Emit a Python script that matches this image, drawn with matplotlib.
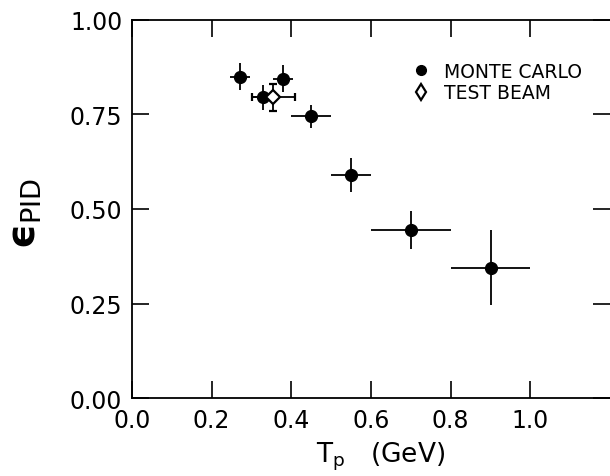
import matplotlib
matplotlib.use("Agg")
import matplotlib.pyplot as plt
from matplotlib.lines import Line2D

plt.rcParams['font.family'] = ['DejaVu Sans']
plt.rcParams['mathtext.fontset'] = 'dejavusans'

# Monte Carlo points
mc_x = [0.27, 0.33, 0.38, 0.45, 0.55, 0.70, 0.90]
mc_y = [0.85, 0.795, 0.845, 0.745, 0.59, 0.445, 0.345]
mc_xerr = [0.025, 0.025, 0.025, 0.05, 0.05, 0.10, 0.10]
mc_yerr = [0.035, 0.032, 0.035, 0.03, 0.045, 0.05, 0.10]

# Test beam point
tb_x = [0.355]
tb_y = [0.795]
tb_xerr = [0.055]
tb_yerr = [0.035]

xticks = [0.0, 0.2, 0.4, 0.6, 0.8, 1.0]
xtick_labels = ["0.0", "0.2", "0.4", "0.6", "0.8", "1.0"]
yticks = [0.0, 0.25, 0.50, 0.75, 1.00]
ytick_labels = ["0.00", "0.25", "0.50", "0.75", "1.00"]

fig = plt.figure(figsize=(6.1, 4.77), dpi=100)
ax = fig.add_axes([0.2164, 0.1635, 0.7836, 0.7925])

ax.errorbar(mc_x, mc_y, xerr=mc_xerr, yerr=mc_yerr, fmt='o', color='black',
            ms=8.5, elinewidth=1.3, capsize=0, zorder=3)
ax.errorbar(tb_x, tb_y, xerr=tb_xerr, yerr=tb_yerr, fmt='D', color='black',
            mfc='white', mec='black', mew=1.6, ms=7, elinewidth=1.3,
            capsize=3, capthick=1.3, zorder=4)

ax.set_xlim(0, 1.2)
ax.set_ylim(0, 1.0)
ax.set_xticks(xticks)
ax.set_xticklabels(xtick_labels)
ax.set_yticks(yticks)
ax.set_yticklabels(ytick_labels)

ax.tick_params(axis='both', direction='in', length=12, width=1.2,
               labelsize=17, top=True, right=True, pad=7)
for side in ['left', 'bottom', 'top']:
    ax.spines[side].set_linewidth(1.3)
ax.spines['right'].set_visible(False)

ax.set_xlabel(r'T$_{\rm p}$   (GeV)', fontsize=19)
ax.xaxis.set_label_coords(0.52, -0.11)
ax.set_ylabel('\u03f5$_{\\rm PID}$', fontsize=28, fontweight='bold')
ax.yaxis.set_label_coords(-0.185, 0.49)

handles = [
    Line2D([], [], marker='o', ls='none', color='black', ms=7),
    Line2D([], [], marker='d', ls='none', mfc='white', mec='black', mew=1.6, ms=8),
]
ax.legend(handles, ["MONTE CARLO", "TEST BEAM"], loc='upper left',
          bbox_to_anchor=(0.585, 0.89), frameon=False, fontsize=13.5,
          handlelength=1.0, handletextpad=0.7, borderpad=0,
          borderaxespad=0, labelspacing=0.15)

fig.savefig("out.png", dpi=100)
